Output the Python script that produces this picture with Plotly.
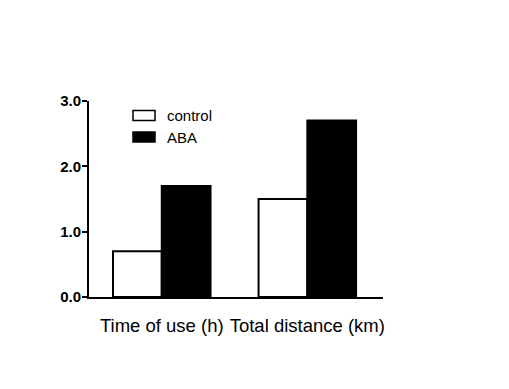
import plotly.graph_objects as go

categories = ["Time of use (h)", "Total distance (km)"]
control = [0.7, 1.5]
aba = [1.7, 2.7]
y_ticks = [0, 1, 2, 3]
y_tick_labels = ["0.0", "1.0", "2.0", "3.0"]
series_names = ["control", "ABA"]
series_fill = ["white", "black"]

fig = go.Figure()
for name, vals, fill in zip(series_names, [control, aba], series_fill):
    fig.add_trace(go.Bar(x=categories, y=vals, name=name,
                         marker=dict(color=fill, line=dict(color="black", width=2))))

# manual legend (wide key boxes like the reference)
legend_rows = [(0.9515, 0.9005), (0.8418, 0.7908)]
for (top, bot), name, fill in zip(legend_rows, series_names, series_fill):
    fig.add_shape(type="rect", xref="paper", yref="paper",
                  x0=0.1497, x1=0.2245, y0=bot, y1=top,
                  fillcolor=fill, line=dict(color="black", width=1.5))
    fig.add_annotation(xref="paper", yref="paper", x=0.258, y=(top + bot) / 2,
                       text=name, showarrow=False, xanchor="left", yanchor="middle",
                       font=dict(size=15, color="black"))

fig.update_layout(
    width=509, height=389,
    margin=dict(l=81, r=134, t=93, b=100),
    paper_bgcolor="white", plot_bgcolor="white",
    barmode="group", bargap=0.33, bargroupgap=0,
    font=dict(family="Liberation Sans, Arial", color="black"),
    showlegend=False,
)
fig.update_xaxes(range=[-0.5, 1.52], showline=True, linecolor="black", linewidth=2,
                 ticks="", tickfont=dict(size=18.5), showgrid=False, zeroline=False,
                 ticklabelstandoff=11)
fig.update_yaxes(range=[0, 3], tickvals=y_ticks, ticktext=y_tick_labels,
                 showline=True, linecolor="black", linewidth=2,
                 ticks="outside", ticklen=5, tickwidth=2, tickcolor="black",
                 tickfont=dict(size=15, family="Liberation Sans, Arial", weight="bold"),
                 ticklabelstandoff=-2,
                 showgrid=False, zeroline=False)

fig.write_html("out.html")
